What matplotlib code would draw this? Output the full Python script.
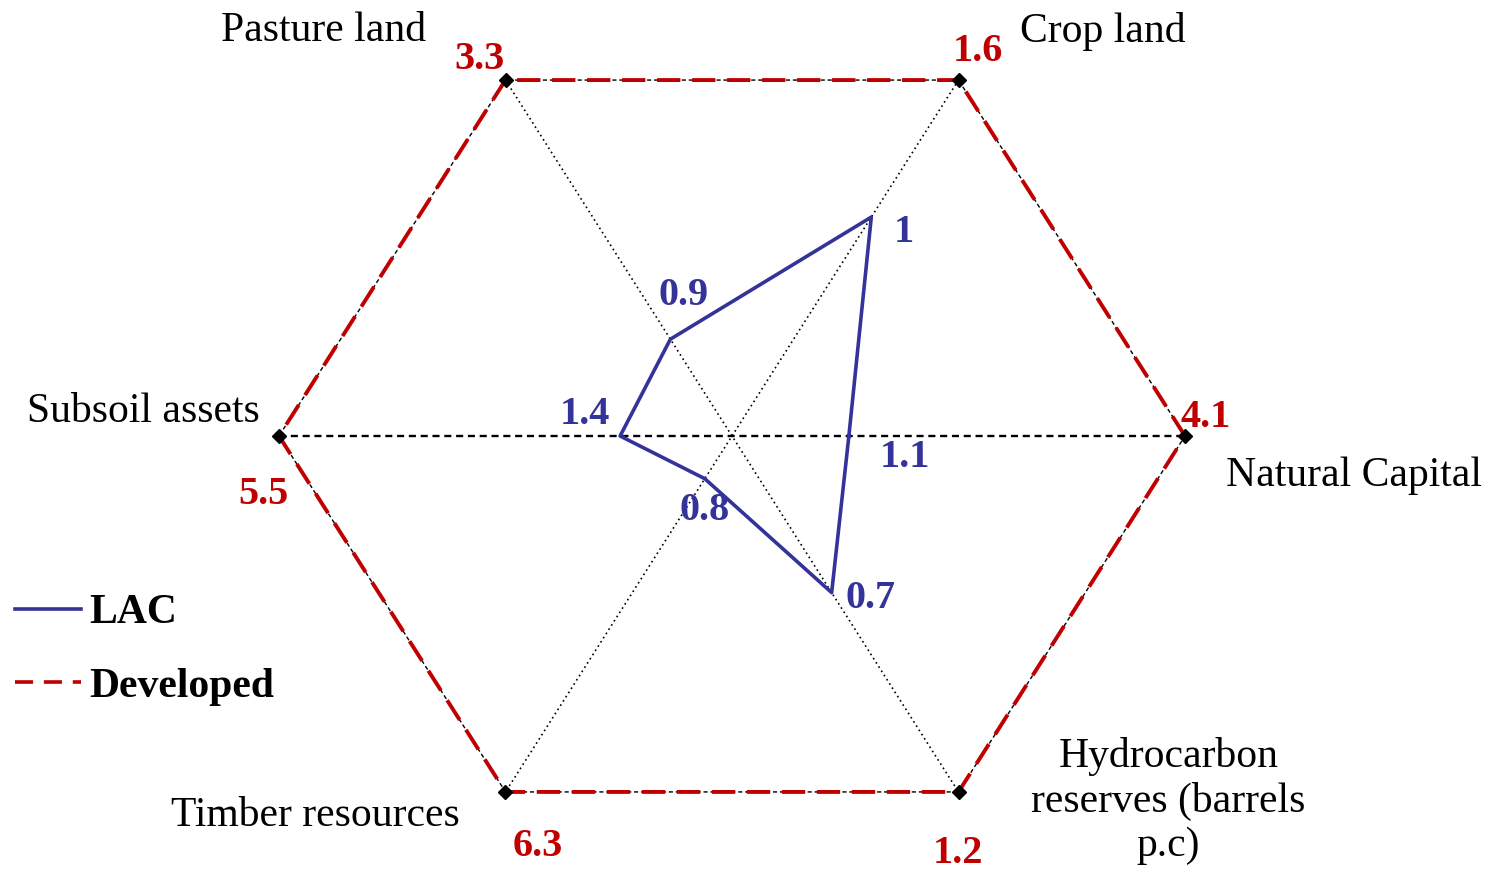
import numpy as np
import matplotlib
matplotlib.use("Agg")
import matplotlib.pyplot as plt
from matplotlib.lines import Line2D

plt.rcParams['font.family'] = ['Liberation Serif', 'DejaVu Serif']

categories = ["Natural Capital", "Crop land", "Pasture land",
              "Subsoil assets", "Timber resources",
              "Hydrocarbon\nreserves (barrels\np.c)"]
developed_labels = ["4.1", "1.6", "3.3", "5.5", "6.3", "1.2"]
lac_labels = ["1.1", "1", "0.9", "1.4", "0.8", "0.7"]
# share of the developed value, as drawn on each spoke
lac_share = [0.258, 0.615, 0.272, 0.247, 0.12, 0.44]
developed_share = [1, 1, 1, 1, 1, 1]

RED = "#C00000"
BLUE = "#333399"

# pixel offsets of texts
cat_offsets = [(169, -40), (144, 49), (-182, 49), (-136, 24), (-190, -24), (210, -9)]
dev_offsets = [(21, 19), (19, 29), (-26, 21), (-16, -58), (32, -55), (0, -62)]
lac_offsets = [(56, -21), (33, -15), (13, 44), (-35, 22), (0, -32), (39, -6)]

angles = np.deg2rad(np.arange(0, 360, 60))


def ToXY(shares):
    r = np.asarray(shares, dtype=float)
    return r * np.cos(angles), r * np.sin(angles)


fig = plt.figure(figsize=(14.98, 8.71), dpi=100)
ax = fig.add_axes([0, 0, 1, 1])
ax.set_xlim(-732 / 453, (1498 - 732) / 453)
ax.set_ylim(-(871 - 436) / 411, 436 / 411)
ax.axis("off")

# spokes
ox, oy = ToXY(developed_share)
ax.plot([ox[3], ox[0]], [oy[3], oy[0]], color="black", lw=1.7,
        dashes=(3, 2), zorder=1)
ax.plot([ox[1], ox[4]], [oy[1], oy[4]], color="black", lw=1.2,
        linestyle=(0, (1, 2)), zorder=1)
ax.plot([ox[2], ox[5]], [oy[2], oy[5]], color="black", lw=1.2,
        linestyle=(0, (1, 2)), zorder=1)

# developed hexagon
hx = np.append(ox, ox[0])
hy = np.append(oy, oy[0])
ax.plot(hx, hy, color="black", lw=1.0, dashes=(3, 2), zorder=2)
ax.plot(hx, hy, color=RED, lw=2.8, dashes=(6, 3), zorder=3)
ax.plot(ox, oy, linestyle="none", marker="D", color="black",
        markersize=7, zorder=4)

# LAC polygon
lx, ly = ToXY(lac_share)
ax.plot(np.append(lx, lx[0]), np.append(ly, ly[0]), color=BLUE, lw=2.6,
        zorder=5)

for i in range(6):
    ax.annotate(categories[i], (ox[i], oy[i]), xytext=cat_offsets[i],
                textcoords="offset pixels", ha="center", va="center",
                fontsize=30, color="black", linespacing=1.2)
    ax.annotate(developed_labels[i], (ox[i], oy[i]), xytext=dev_offsets[i],
                textcoords="offset pixels", ha="center", va="center",
                fontsize=29, color=RED, fontweight="bold")
    ax.annotate(lac_labels[i], (lx[i], ly[i]), xytext=lac_offsets[i],
                textcoords="offset pixels", ha="center", va="center",
                fontsize=29, color=BLUE, fontweight="bold")

handles = [Line2D([], [], color=BLUE, lw=2.6),
           Line2D([], [], color=RED, lw=2.6, dashes=(5, 3))]
fig.legend(handles, ["LAC", "Developed"], loc="upper left",
           bbox_to_anchor=(0.0097, 0.318), frameon=False,
           prop={"size": 30, "weight": "bold"}, handlelength=1.6,
           handletextpad=0.2, labelspacing=0.85, borderpad=0,
           borderaxespad=0)

fig.savefig("out.png", dpi=100)
